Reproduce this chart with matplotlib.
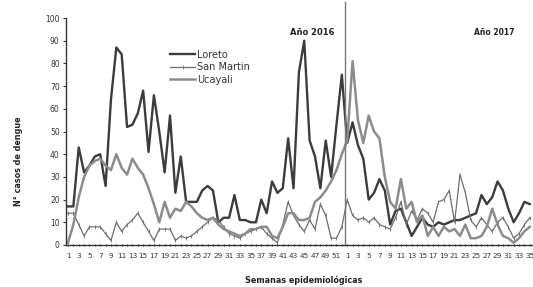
import matplotlib
matplotlib.use("Agg")
import matplotlib.pyplot as plt
import numpy as np

weeks_2016 = list(range(1, 53))
weeks_2017 = list(range(1, 36))

loreto_2016 = [17, 17, 43, 32, 35, 39, 40, 26, 64, 87, 84, 52, 53, 58, 68, 41, 66, 50, 32, 57,
               23, 39, 19, 19, 19, 24, 26, 24, 10, 12, 12, 22, 11, 11, 10, 10, 20, 14, 28, 23,
               25, 47, 25, 76, 90, 46, 39, 25, 46, 30, 53, 75]
loreto_2017 = [45, 54, 44, 38, 20, 23, 29, 24, 9, 15, 16, 10, 4, 8, 12, 9, 8, 10, 9, 10,
               11, 11, 12, 13, 14, 22, 18, 21, 28, 24, 16, 10, 14, 19, 18]

sanmartin_2016 = [14, 14, 9, 4, 8, 8, 8, 5, 2, 10, 6, 9, 11, 14, 10, 6, 2, 7, 7, 7,
                  2, 4, 3, 4, 6, 8, 10, 12, 11, 8, 5, 4, 3, 5, 6, 7, 8, 5, 3, 1,
                  9, 19, 13, 9, 6, 11, 7, 18, 13, 3, 3, 8]
sanmartin_2017 = [20, 13, 11, 12, 10, 12, 9, 8, 7, 12, 19, 9, 15, 11, 16, 14, 10, 19, 20, 24,
                  10, 31, 23, 11, 8, 12, 9, 6, 10, 12, 8, 3, 5, 9, 12]

ucayali_2016 = [1, 9, 21, 30, 35, 37, 38, 35, 33, 40, 34, 31, 38, 34, 31, 25, 18, 10, 19, 12,
                16, 15, 19, 17, 14, 12, 11, 12, 9, 7, 6, 5, 4, 5, 7, 7, 8, 8, 4, 3,
                8, 14, 14, 11, 11, 12, 19, 21, 24, 28, 33, 40]
ucayali_2017 = [46, 81, 55, 45, 57, 50, 47, 30, 19, 16, 29, 16, 19, 10, 13, 4, 8, 4, 8, 6,
                7, 4, 9, 3, 3, 4, 8, 16, 9, 4, 3, 1, 3, 6, 8]

series = [
    ("Loreto", loreto_2016 + loreto_2017, dict(color="#3c3c3c", lw=1.7)),
    ("San Martin", sanmartin_2016 + sanmartin_2017,
     dict(color="#6e6e6e", lw=0.9, marker="|", ms=2.2, mew=0.6)),
    ("Ucayali", ucayali_2016 + ucayali_2017, dict(color="#8c8c8c", lw=1.8)),
]

labels = weeks_2016 + weeks_2017
n = len(labels)
x = np.arange(n)

fig = plt.figure(figsize=(5.33, 2.87), dpi=100)
ax = fig.add_axes([66 / 533, 42 / 287, 467 / 533, 227 / 287])

for name, vals, style in series:
    ax.plot(x, vals, label=name, **style)

ax.axvline(len(weeks_2016) - 0.5, ymin=0, ymax=1.07, color="#777777", lw=1.0, clip_on=False)

ax.set_xlim(-0.37, 86.6)
ax.set_ylim(0, 100)
ax.set_yticks(range(0, 101, 10))
ax.tick_params(axis="y", labelsize=5.5, length=2.5, width=0.8, colors="#333333", pad=2)

major = [i for i in range(n) if labels[i] % 2 == 1]
ax.set_xticks(major)
ax.set_xticklabels([str(labels[i]) for i in major], fontsize=5.2, color="#333333")
ax.set_xticks(x, minor=True)
ax.tick_params(axis="x", which="both", length=2, width=0.7, direction="inout", pad=5, colors="#333333")

for s in ["top", "right"]:
    ax.spines[s].set_visible(False)
for s in ["left", "bottom"]:
    ax.spines[s].set_color("#333333")
    ax.spines[s].set_linewidth(1.0)

ax.set_ylabel("N° casos de dengue", fontsize=5.8, fontweight="bold", color="#222222")
ax.yaxis.set_label_coords(-0.092, 0.37)
ax.set_xlabel("Semanas epidemiológicas", fontsize=5.8, fontweight="bold", color="#222222")
ax.xaxis.set_label_coords(0.51, -0.135)

ax.text(45.4, 93.8, "Año 2016", fontsize=6, fontweight="bold", ha="center", va="center", color="#222222")
ax.text(79.3, 93.8, "Año 2017", fontsize=5.5, fontweight="bold", ha="center", va="center", color="#222222")

ax.legend(loc="upper left", bbox_to_anchor=(0.223, 0.86), frameon=False, fontsize=7,
          handlelength=2.6, handletextpad=0.15, labelspacing=0.25, borderpad=0,
          borderaxespad=0, labelcolor="#333333")

fig.savefig("out.png", dpi=100, facecolor="white")
